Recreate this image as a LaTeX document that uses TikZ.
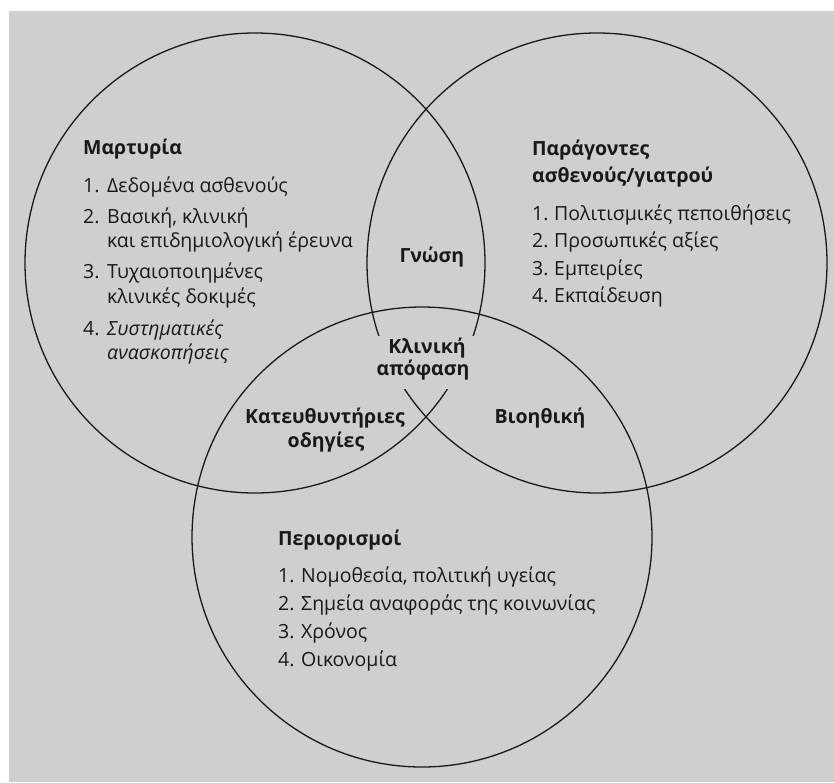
\documentclass[tikz,border=0pt]{standalone}
\usepackage{fontspec}
\setmainfont{Open Sans}
\definecolor{bg}{RGB}{207,207,207}
\definecolor{ink}{RGB}{25,25,25}
\begin{document}
\begin{tikzpicture}[x=1pt,y=-1pt,
  txt/.style={anchor=base west, inner sep=0pt, text=ink, font=\fontsize{19.5}{22}\selectfont},
  head/.style={anchor=base west, inner sep=0pt, text=ink, font=\fontsize{19.5}{22}\selectfont\bfseries},
  mid/.style={anchor=base, inner sep=0pt, text=ink, font=\fontsize{19.5}{22}\selectfont\bfseries},
  ring/.style={draw=ink, line width=1.3pt}]
\useasboundingbox (0,0) rectangle (834,782);
\fill[bg] (9,11) rectangle (834,782);
% circles
\draw[ring] (255,263) circle[radius=230];
\draw[ring] (597,263) circle[radius=230];
\draw[ring] (422,537) circle[radius=230];
% gap behind the central label
\fill[bg] (362,336) rectangle (488,389);
% left block
\node[head] (mhead) at (83,154) {Μαρτυρία};
\node[txt] (mn1) at (83,192) {1.};
\node[txt] (mt1) at (107,192) {Δεδομένα ασθενούς};
\node[txt] (mn2) at (83,223) {2.};
\node[txt] (mt2) at (107,223) {Βασική, κλινική};
\node[txt] (mt2b) at (107,247) {και επιδημιολογική έρευνα};
\node[txt] (mn3) at (83,278) {3.};
\node[txt] (mt3) at (107,278) {Τυχαιοποιημένες};
\node[txt] (mt3b) at (107,303) {κλινικές δοκιμές};
\node[txt] (mn4) at (83,335) {4.};
\node[txt] (mt4) at (107,335) {\itshape Συστηματικές};
\node[txt] (mt4b) at (107,359) {\itshape ανασκοπήσεις};
% right block
\node[head] (phead) at (532,155) {Παράγοντες};
\node[head] (phead2) at (532,182) {ασθενούς/γιατρού};
\node[txt] (pn1) at (532,220) {1.};
\node[txt] (pt1) at (554,220) {Πολιτισμικές πεποιθήσεις};
\node[txt] (pn2) at (532,247) {2.};
\node[txt] (pt2) at (554,247) {Προσωπικές αξίες};
\node[txt] (pn3) at (532,275) {3.};
\node[txt] (pt3) at (554,275) {Εμπειρίες};
\node[txt] (pn4) at (532,302) {4.};
\node[txt] (pt4) at (554,302) {Εκπαίδευση};
% bottom block
\node[head] (rhead) at (278,545) {Περιορισμοί};
\node[txt] (rn1) at (278,582) {1.};
\node[txt] (rt1) at (301,582) {Νομοθεσία, πολιτική υγείας};
\node[txt] (rn2) at (278,610) {2.};
\node[txt] (rt2) at (301,610) {Σημεία αναφοράς της κοινωνίας};
\node[txt] (rn3) at (278,638) {3.};
\node[txt] (rt3) at (301,638) {Χρόνος};
\node[txt] (rn4) at (278,666) {4.};
\node[txt] (rt4) at (301,666) {Οικονομία};
% intersections
\node[mid] (gnosi) at (432,262) {Γνώση};
\node[mid] (klin1) at (427,353) {Κλινική};
\node[mid] (klin2) at (423,375) {απόφαση};
\node[mid] (kat1) at (325,423) {Κατευθυντήριες};
\node[mid] (kat2) at (326,447) {οδηγίες};
\node[mid] (bio) at (540,423) {Βιοηθική};
\end{tikzpicture}
\end{document}
